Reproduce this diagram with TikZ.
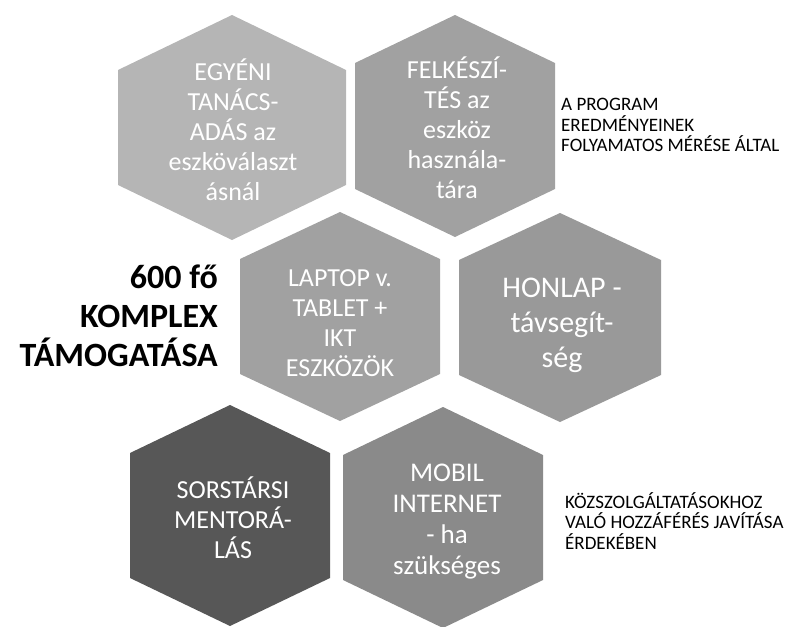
\documentclass[tikz,border=0pt]{standalone}
\usepackage{fontspec}
\setmainfont{Carlito}

\definecolor{hexlight}{gray}{0.71}
\definecolor{hexmid}{gray}{0.63}
\definecolor{hexmidb}{gray}{0.60}
\definecolor{hexdark}{gray}{0.34}
\definecolor{hexmob}{gray}{0.54}

% hexagon cell: fill, centre x, top y, bottom y, half width, cap height
\newcommand{\hexcell}[6]{%
  \fill[#1] (#2,#3) -- ++(#5,#6) -- (#2+#5,#4-#6) -- (#2,#4)
    -- (#2-#5,#4-#6) -- (#2-#5,#3+#6) -- cycle;}

\begin{document}
\begin{tikzpicture}[x=1pt,y=-1pt]
        \tikzstyle{hextext}=[align=center,text=white,inner sep=0pt,font=\fontsize{26}{30}\selectfont]
        \tikzstyle{sidenote}=[align=left,anchor=west,inner sep=0pt,font=\fontsize{19}{20.5}\selectfont]
        \useasboundingbox (0,0) rectangle (805,626);
       \begin{scope}
         \hexcell{hexlight}{232}{15}{240}{114}{55}
         \hexcell{hexmid}{455}{15}{237}{100}{48}
         \hexcell{hexmid}{340}{212}{421}{100}{47}
         \hexcell{hexmidb}{560}{213}{422}{101}{47}
         \hexcell{hexdark}{230}{405}{626}{100}{48}
         \hexcell{hexmob}{443}{407}{628}{100}{48}
       \end{scope}
       \begin{scope}
         \node [hextext] (tanacs) at (233,130) {EGYÉNI\\TANÁCS-\\ADÁS az\\eszköválaszt\\ásnál};
         \node [hextext] (felkesz) at (457,128) {FELKÉSZÍ-\\TÉS az\\eszköz\\használa-\\tára};
         \node [hextext] (laptop) at (340,323) {LAPTOP v.\\TABLET +\\IKT\\ESZKÖZÖK};
         \node [hextext,font=\fontsize{30}{35}\selectfont] (honlap) at (562,325) {HONLAP -\\távsegít-\\ség};
         \node [hextext] (mentor) at (233,518) {SORSTÁRSI\\MENTORÁ-\\LÁS};
         \node [hextext,font=\fontsize{27}{31}\selectfont] (mobil) at (447,522) {MOBIL\\INTERNET\\- ha\\szükséges};
       \end{scope}
         \node [align=right,anchor=east,inner sep=0pt,font=\fontsize{34}{39}\selectfont\bfseries] (cel) at (218,316) {600 fő\\KOMPLEX\\TÁMOGATÁSA};
         \node [sidenote] (meres) at (561,125) {A PROGRAM\\EREDMÉNYEINEK\\FOLYAMATOS MÉRÉSE ÁLTAL};
         \node [sidenote] (kozszolg) at (565,521) {KÖZSZOLGÁLTATÁSOKHOZ\\VALÓ HOZZÁFÉRÉS JAVÍTÁSA\\ÉRDEKÉBEN};
      \end{tikzpicture}
\end{document}
